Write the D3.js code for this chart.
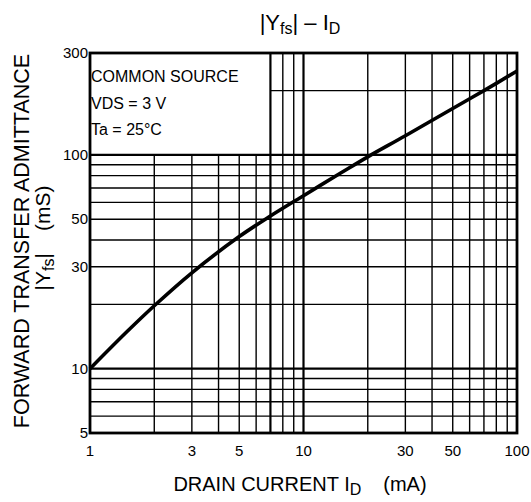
<!DOCTYPE html>
<html>
<head>
<meta charset="utf-8">
<script src="https://cdn.jsdelivr.net/npm/d3@7"></script>
<style>
  html, body { margin: 0; padding: 0; background: #fff; }
  svg { display: block; font-family: "Liberation Sans", Arial, Helvetica, sans-serif; }
</style>
</head>
<body>
<svg id="chart" width="531" height="502"></svg>
<script>
// ---- data ----
const drainCurrent = [1, 1.5, 2, 3, 5, 7, 10, 15, 20, 30, 50, 70, 100];          // mA
const yfsValues    = [10, 15, 19.7, 28.1, 41.5, 51.8, 64.5, 82.5, 98, 123, 165, 200, 247]; // mS
const xTickValues = [1, 3, 5, 10, 30, 50, 100];
const xTickLabels = ["1", "3", "5", "10", "30", "50", "100"];
const yTickValues = [5, 10, 30, 50, 100, 300];
const yTickLabels = ["5", "10", "30", "50", "100", "300"];
const xGridValues = [2, 3, 4, 5, 6, 7, 8, 9, 10, 20, 30, 40, 50, 60, 70, 80, 90];
const yGridValues = [6, 7, 8, 9, 10, 20, 30, 40, 50, 60, 70, 80, 90, 100, 200];
const boxLines = ["COMMON SOURCE", "VDS = 3 V", "Ta = 25°C"];

// ---- layout ----
const svg = d3.select("#chart");
const L = 90, R = 517, T = 53, B = 433;
const x = d3.scaleLog().domain([1, 100]).range([L, R]);
const y = d3.scaleLog().domain([5, 300]).range([B, T]);
const boxX = 7, boxY = 100; // legend box region: x 1..7, y 100..300

const g = svg.append("g");

// vertical grid lines
g.selectAll("line.vg").data(xGridValues).join("line")
  .attr("class", "vg")
  .attr("x1", d => x(d)).attr("x2", d => x(d))
  .attr("y1", B)
  .attr("y2", d => d >= boxX ? T : y(boxY))
  .attr("stroke", "#000")
  .attr("stroke-width", d => (d === 10 || d === boxX) ? 2.2 : 1.4);

// horizontal grid lines
g.selectAll("line.hg").data(yGridValues).join("line")
  .attr("class", "hg")
  .attr("y1", d => y(d)).attr("y2", d => y(d))
  .attr("x1", d => d > boxY ? x(boxX) : L)
  .attr("x2", R)
  .attr("stroke", "#000")
  .attr("stroke-width", d => (d === 10 || d === 100) ? 2.2 : 1.4);

// frame
g.append("rect")
  .attr("x", L).attr("y", T).attr("width", R - L).attr("height", B - T)
  .attr("fill", "none").attr("stroke", "#000").attr("stroke-width", 2.8);

// curve
const line = d3.line()
  .x((d, i) => x(drainCurrent[i]))
  .y(d => y(d))
  .curve(d3.curveCatmullRom.alpha(0.5));
g.append("path")
  .datum(yfsValues)
  .attr("d", line)
  .attr("fill", "none")
  .attr("stroke", "#000")
  .attr("stroke-width", 3.6)
  .attr("stroke-linecap", "butt");

// box text
g.selectAll("text.box").data(boxLines).join("text")
  .attr("class", "box")
  .attr("x", L + 1)
  .attr("y", (d, i) => 82 + i * 26.5)
  .attr("font-size", 16)
  .attr("fill", "#000")
  .text(d => d);

// y tick labels
g.selectAll("text.yt").data(yTickValues).join("text")
  .attr("class", "yt")
  .attr("x", L - 2)
  .attr("y", d => y(d))
  .attr("dy", "0.33em")
  .attr("text-anchor", "end")
  .attr("font-size", 15)
  .text((d, i) => yTickLabels[i]);

// x tick labels
g.selectAll("text.xt").data(xTickValues).join("text")
  .attr("class", "xt")
  .attr("x", d => x(d))
  .attr("y", 456)
  .attr("text-anchor", "middle")
  .attr("font-size", 15)
  .text((d, i) => xTickLabels[i]);

// title
const title = svg.append("text")
  .attr("x", 300).attr("y", 30)
  .attr("text-anchor", "middle")
  .attr("font-size", 22);
title.append("tspan").text("|Y");
title.append("tspan").attr("font-size", 16).attr("dy", 4).text("fs");
title.append("tspan").attr("dy", -4).text("| – I");
title.append("tspan").attr("font-size", 16).attr("dy", 4).text("D");

// x axis title
const xt = svg.append("text")
  .attr("x", 300).attr("y", 491)
  .attr("text-anchor", "middle")
  .attr("font-size", 20);
xt.append("tspan").text("DRAIN CURRENT I");
xt.append("tspan").attr("font-size", 16).attr("dy", 4).text("D");
xt.append("tspan").attr("dy", -4).attr("dx", 22).text("(mA)");

// y axis title
svg.append("text")
  .attr("transform", "translate(29,241) rotate(-90)")
  .attr("text-anchor", "middle")
  .attr("font-size", 21.5)
  .text("FORWARD TRANSFER ADMITTANCE");

const yt2 = svg.append("text")
  .attr("transform", "translate(50,238) rotate(-90)")
  .attr("text-anchor", "middle")
  .attr("font-size", 21);
yt2.append("tspan").text("|Y");
yt2.append("tspan").attr("font-size", 16).attr("dy", 4).text("fs");
yt2.append("tspan").attr("dy", -4).text("|");
yt2.append("tspan").attr("dx", 22).text("(mS)");
</script>
</body>
</html>
